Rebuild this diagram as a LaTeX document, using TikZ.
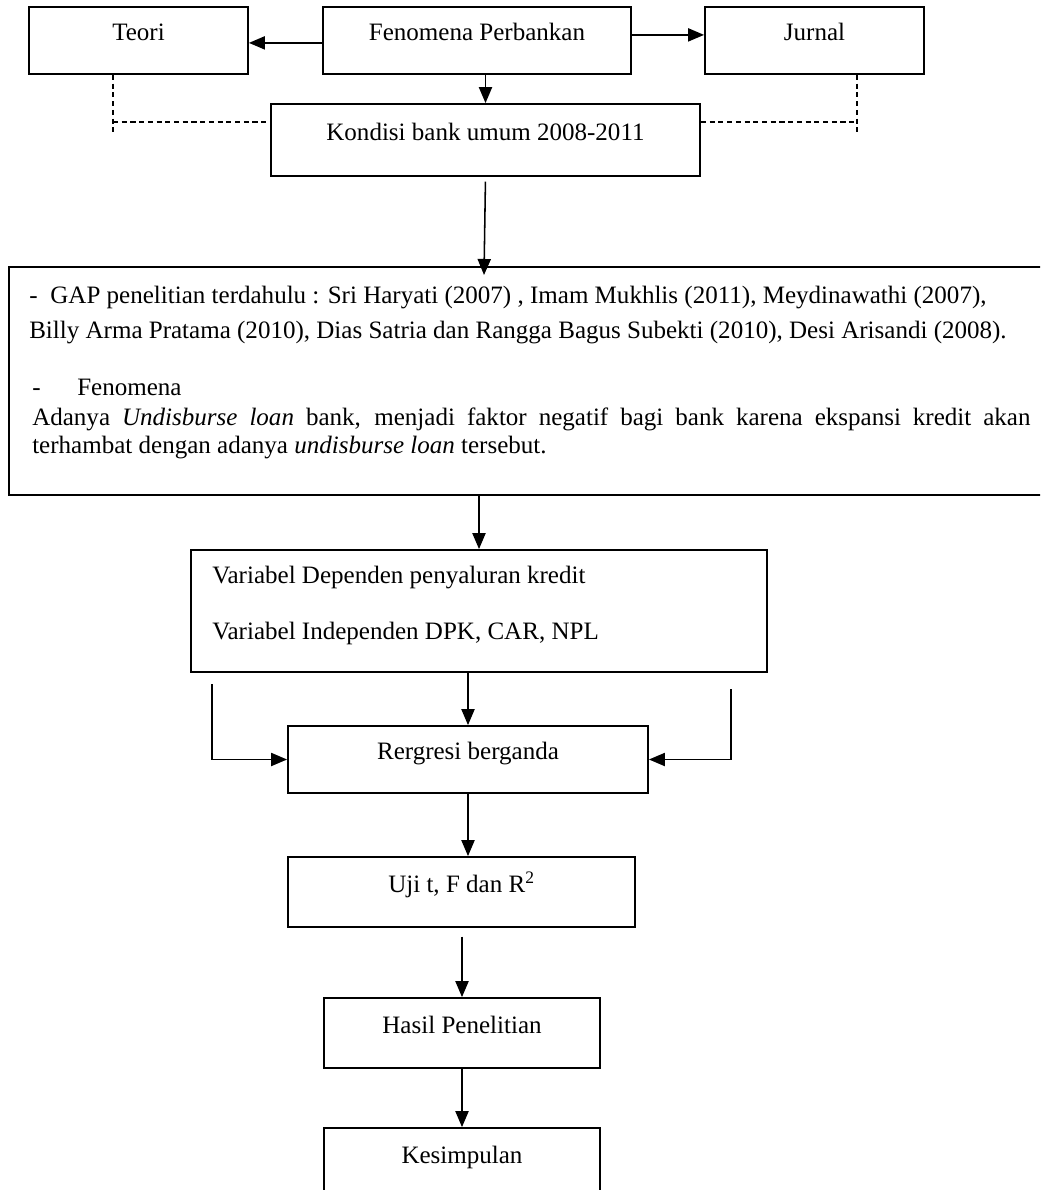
\documentclass[tikz,border=0pt]{standalone}
\usepackage{fontspec}
\setmainfont{Liberation Serif}
\usetikzlibrary{arrows.meta}
\tikzset{
    box/.style = {draw, line width=1.3pt, inner sep=0pt, text height=8pt, text depth=8pt},
    arr/.style = {line width=1.1pt, -{Triangle[length=0.4cm, width=0.33cm]}},
    dashline/.style = {line width=0.9pt, dash pattern=on 3.6pt off 2.6pt},
    txt/.style = {anchor=base west, inner sep=0pt}
}
\begin{document}
\begin{tikzpicture}[x=0.025cm, y=-0.025cm, font=\fontsize{17.8}{21}\selectfont]
        \useasboundingbox (0, 0) rectangle (1040, 1190);
        \clip (0, 0) rectangle (1040, 1190);
        \node [box, minimum width=5.475cm, minimum height=1.675cm] (teori) at (138.5, 40.5) {Teori};
        \node [box, minimum width=7.7cm, minimum height=1.675cm] (fenomena) at (477, 40.5) {Fenomena Perbankan};
        \node [box, minimum width=5.475cm, minimum height=1.675cm] (jurnal) at (814.5, 40.5) {Jurnal};
        \node [box, minimum width=10.725cm, minimum height=1.8cm] (kondisi) at (485.5, 140) {Kondisi bank umum 2008-2011};
        \node [box, minimum width=26.525cm, minimum height=5.7cm] (gap) at (539.5, 381) {};
        \node [txt] (gap1) at (29, 303) {-\hspace{0.32cm}GAP penelitian terdahulu : Sri Haryati (2007) , Imam Mukhlis (2011), Meydinawathi (2007),};
        \node [txt] (gap2) at (29, 338) {Billy Arma Pratama (2010), Dias Satria dan Rangga Bagus Subekti (2010), Desi Arisandi (2008).};
        \node [txt] (gap3) at (32, 395) {\makebox[1.125cm][l]{-}Fenomena};
        \node [txt] (gap4) at (32, 425) {\makebox[24.95cm][s]{Adanya \textit{Undisburse loan} bank, menjadi faktor negatif bagi bank karena ekspansi kredit akan}};
        \node [txt] (gap5) at (32, 453) {terhambat dengan adanya \textit{undisburse loan} tersebut.};
        \node [box, minimum width=14.4cm, minimum height=3.05cm] (variabel) at (479, 611) {};
        \node [txt] (var1) at (212, 583) {Variabel Dependen penyaluran kredit};
        \node [txt] (var2) at (212, 639) {Variabel Independen DPK, CAR, NPL};
        \node [box, minimum width=9cm, minimum height=1.675cm] (regresi) at (468, 759.5) {Rergresi berganda};
        \node [box, minimum width=8.675cm, minimum height=1.75cm] (uji) at (461.5, 892) {Uji t, F dan R\textsuperscript{2}};
        \node [box, minimum width=6.9cm, minimum height=1.75cm] (hasil) at (462, 1033) {Hasil Penelitian};
        \node [box, minimum width=6.9cm, minimum height=1.75cm] (kesimpulan) at (462, 1163) {Kesimpulan};
        \coordinate (tdash) at (113, 122);
        \coordinate (jdash) at (857, 122);
        \coordinate (gaptip) at (484, 275);
        \coordinate (lefttop) at (212, 684);
        \coordinate (righttop) at (731, 689);
        \draw [arr] ([yshift=-0.06cm]fenomena.west) -- ([yshift=-0.06cm]teori.east);
        \draw [arr] ([yshift=0.14cm]fenomena.east) -- ([yshift=0.14cm]jurnal.west);
        \draw [arr] (kondisi.north |- fenomena.south) -- (kondisi.north);
        \draw [dashline] (teori.south -| tdash) -- ++(0, 57);
        \draw [dashline] (tdash) -- (kondisi.west |- tdash);
        \draw [dashline] (jurnal.south -| jdash) -- ++(0, 57);
        \draw [dashline] (kondisi.east |- jdash) -- (jdash);
        \draw [arr, shorten <=0.12cm] (kondisi.south) -- (gaptip);
        \draw [arr] (variabel.north |- gap.south) -- (variabel.north);
        \draw [arr] (regresi.north |- variabel.south) -- (regresi.north);
        \draw [arr] (lefttop) |- (regresi.west);
        \draw [arr] (righttop) |- (regresi.east);
        \draw [arr] (regresi.south) -- (regresi.south |- uji.north);
        \draw [arr, shorten <=0.22cm] (hasil.north |- uji.south) -- (hasil.north);
        \draw [arr] (hasil.south) -- (kesimpulan.north);
    \end{tikzpicture}
\end{document}
